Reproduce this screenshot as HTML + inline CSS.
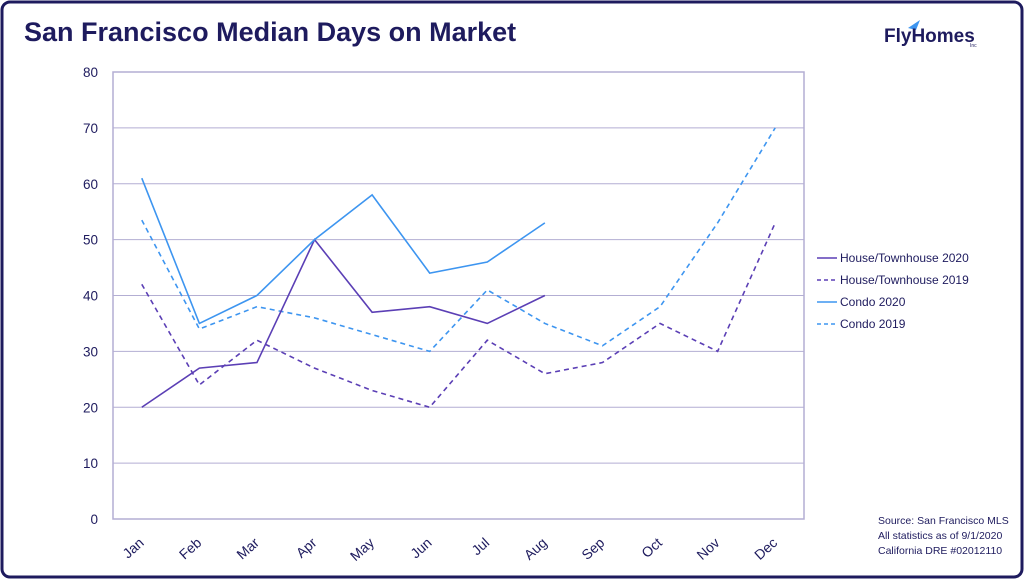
<!DOCTYPE html>
<html><head><meta charset="utf-8"><style>
body{margin:0;width:1024px;height:579px;overflow:hidden;background:#fff;font-family:"Liberation Sans",sans-serif}
</style></head><body>
<svg width="1024" height="579">
<rect x="2" y="2" width="1020" height="575" rx="8" fill="#fff" stroke="#1e1b5e" stroke-width="3"/>
<text x="24" y="41" font-size="27" font-weight="bold" fill="#1e1b5e">San Francisco Median Days on Market</text>
<g>
<path d="M908 28 L920 20 L916 30 Z" fill="#3d95f0"/>
<text x="884" y="42" font-size="19" font-weight="bold" fill="#1e1b5e">FlyHomes</text>
<text x="970" y="47" font-size="5" fill="#1e1b5e">Inc</text>
</g>
<g id="grid"></g><g id="series"></g>
<g font-size="12" fill="#1e1b5e">
<line x1="817" y1="258" x2="837" y2="258" stroke="#5b3fb5" stroke-width="1.6"/><text x="840" y="262">House/Townhouse 2020</text>
<line x1="817" y1="280" x2="837" y2="280" stroke="#5b3fb5" stroke-width="1.6" stroke-dasharray="4,3"/><text x="840" y="284">House/Townhouse 2019</text>
<line x1="817" y1="302" x2="837" y2="302" stroke="#3d95f0" stroke-width="1.6"/><text x="840" y="306">Condo 2020</text>
<line x1="817" y1="324" x2="837" y2="324" stroke="#3d95f0" stroke-width="1.6" stroke-dasharray="4,3"/><text x="840" y="328">Condo 2019</text>
</g>
<g font-size="10.5" fill="#1e1b5e">
<text x="878" y="524">Source: San Francisco MLS</text>
<text x="878" y="539">All statistics as of 9/1/2020</text>
<text x="878" y="554">California DRE #02012110</text>
</g>
</svg>
<script>
const categories=["Jan","Feb","Mar","Apr","May","Jun","Jul","Aug","Sep","Oct","Nov","Dec"];
const yTicks=[0,10,20,30,40,50,60,70,80];
const house2020=[20,27,28,50,37,38,35,40];
const house2019=[42,24,32,27,23,20,32,26,28,35,30,53];
const condo2020=[61,35,40,50,58,44,46,53];
const condo2019=[53.5,34,38,36,33,30,41,35,31,38,53,70];
const L=113,R=804,T=72,B=519;
const bw=(R-L)/categories.length;
const x=i=>L+bw*(i+0.5);
const y=v=>B-(v/80)*(B-T);
const NS="http://www.w3.org/2000/svg";
const grid=document.getElementById('grid'),ser=document.getElementById('series');
function mk(tag,attrs,parent){const e=document.createElementNS(NS,tag);for(const k in attrs)e.setAttribute(k,attrs[k]);parent.appendChild(e);return e;}
yTicks.forEach(v=>{
 const ln=mk('line',{x1:L,x2:R,y1:y(v),y2:y(v),stroke:'#b3aed3','stroke-width':1},grid);
 
 
 const t=mk('text',{x:98,y:y(v)+5,'font-size':13.5,fill:'#1e1b5e','text-anchor':'end'},grid);t.textContent=v;
 
 
});
const fr=mk('rect',{x:L,y:T,width:R-L,height:B-T,fill:'none',stroke:'#b3aed3','stroke-width':1.5},grid);


categories.forEach((c,i)=>{
 const t=mk('text',{x:0,y:0,'font-size':14,fill:'#1e1b5e','text-anchor':'end',transform:`translate(${x(i)+3},${B+25}) rotate(-42)`},grid);t.textContent=c;
 
 
});
function line(data,color,dash,name){
 const p=mk('polyline',{points:data.map((v,i)=>x(i)+','+y(v)).join(' '),fill:'none',stroke:color,'stroke-width':1.6,'stroke-dasharray':dash},ser);
 
 
}
line(house2019,'#5b3fb5','5,4','line-house-2019');
line(condo2019,'#3d95f0','5,4','line-condo-2019');
line(house2020,'#5b3fb5','none','line-house-2020');
line(condo2020,'#3d95f0','none','line-condo-2020');
</script>
</body></html>
